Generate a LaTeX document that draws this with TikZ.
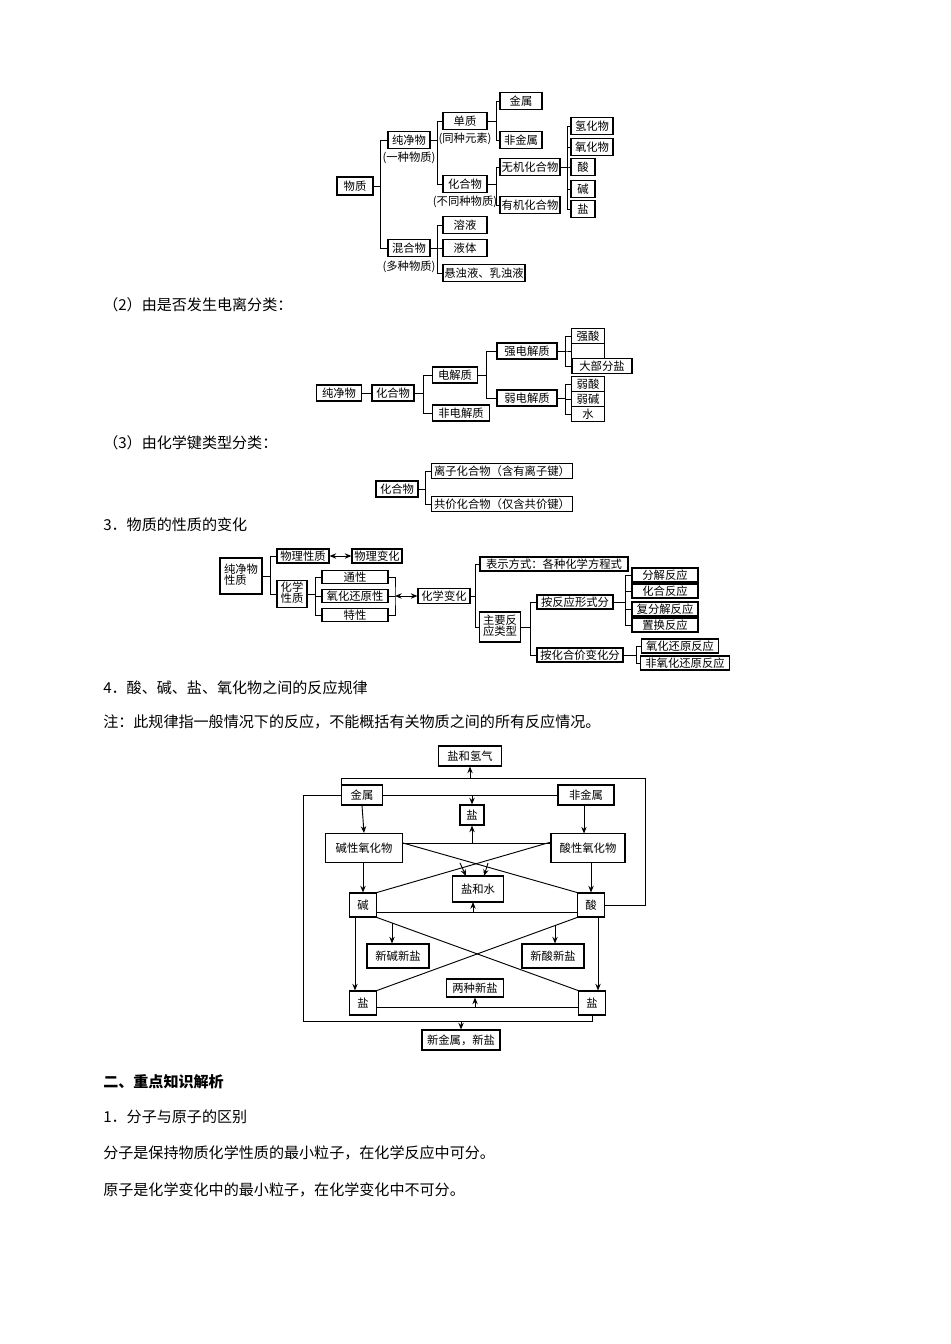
\documentclass[tikz,border=0pt]{standalone}
\usepackage{fontspec}
\newfontfamily\cjk{Noto Sans CJK SC}
\usetikzlibrary{arrows.meta}
\newcommand\bx[6]{\node[bx,minimum width=#4*0.75pt,minimum height=#5*0.75pt] (#1) at (#2,#3) {#6};}
\newcommand\brk[3]{\foreach \c in {#3} {\draw[ln] (#1.east) -- ++(#2,0) |- (\c.west);}}
\newcommand\lbl[3]{\node[font=\cjk\fontsize{8.5}{10}\selectfont,inner sep=0pt] at (#1,#2) {#3};}
\newcommand\para[2]{\node[anchor=west,font=\cjk\fontsize{11.3}{13}\selectfont,inner sep=0pt] at (103,#1) {#2};}
\begin{document}
\begin{tikzpicture}[x=0.75pt,y=-0.75pt,
  bx/.style={draw,line width=0.8pt,inner sep=0pt,font=\cjk\fontsize{8.5}{10}\selectfont},
  ln/.style={line width=0.7pt},
  ar/.style={line width=0.7pt,-{Stealth[length=5pt,width=4pt]}}]
\useasboundingbox[fill=white] (0,0) rectangle (950,1344);
% ---------- diagram 1
\bx{wz}{355}{186}{36}{18}{物质}
\bx{cjw}{409}{140}{42}{17}{纯净物}\lbl{409}{158}{(一种物质)}
\bx{hhw}{409}{248}{42}{17}{混合物}\lbl{409}{267}{(多种物质)}
\bx{dz}{465}{121}{44}{17}{单质}\lbl{465}{139}{(同种元素)}
\bx{hgw}{465}{184}{44}{17}{化合物}\lbl{465}{202}{(不同种物质)}
\bx{js}{521}{101}{42}{17}{金属}
\bx{fjs}{521}{140}{42}{17}{非金属}
\bx{wj}{530}{167}{60}{17}{无机化合物}
\bx{yj}{530}{205}{60}{17}{有机化合物}
\bx{qhw}{592}{126}{42}{17}{氢化物}
\bx{yhw}{592}{147}{42}{17}{氧化物}
\bx{suan}{583}{167}{24}{17}{酸}
\bx{jian}{583}{189}{24}{17}{碱}
\bx{yan}{583}{209}{24}{17}{盐}
\bx{ry}{465}{225}{44}{17}{溶液}
\bx{yt}{465}{248}{44}{17}{液体}
\bx{xz}{484}{273}{82}{17}{悬浊液、乳浊液}
\brk{wz}{7}{cjw,hhw}
\brk{cjw}{7}{dz,hgw}
\brk{dz}{9}{js,fjs}
\brk{hgw}{9}{wj,yj}
\brk{wj}{7}{qhw,yhw,suan,jian,yan}
\brk{hhw}{7}{ry,yt,xz}
% ---------- text
\para{305}{（2）由是否发生电离分类：}
\para{443}{（3）由化学键类型分类：}
\para{525}{3．物质的性质的变化}
\para{688}{4．酸、碱、盐、氧化物之间的反应规律}
\para{722}{注：此规律指一般情况下的反应，不能概括有关物质之间的所有反应情况。}
\node[anchor=west,font=\cjk\bfseries\fontsize{11.3}{13}\selectfont,inner sep=0pt] at (103,1082) {二、重点知识解析};
\para{1117}{1．分子与原子的区别}
\para{1153}{分子是保持物质化学性质的最小粒子，在化学反应中可分。}
\para{1190}{原子是化学变化中的最小粒子，在化学变化中不可分。}
% ---------- diagram 2
\bx{b1}{339}{393}{45}{16}{纯净物}
\bx{b2}{393}{393}{42}{16}{化合物}
\bx{b3}{455}{375}{45}{16}{电解质}
\bx{b4}{461}{413}{57}{16}{非电解质}
\bx{b5}{527}{351}{60}{16}{强电解质}
\bx{b6}{527}{398}{60}{16}{弱电解质}
\bx{c1}{588}{336}{33}{15}{强酸}
\bx{c2}{588}{351}{33}{15}{}
\bx{c3}{602}{366}{60}{15}{大部分盐}
\bx{c4}{588}{384}{33}{15}{弱酸}
\bx{c5}{588}{399}{33}{15}{弱碱}
\bx{c6}{588}{414}{33}{15}{水}
\draw[ln] (b1.east) -- (b2.west);
\brk{b2}{9}{b3,b4}
\brk{b3}{8}{b5,b6}
\brk{b5}{8}{c1,c2,c3}
\brk{b6}{8}{c4,c5,c6}
% ---------- diagram 3
\bx{d1}{397}{489}{42}{16}{化合物}
\bx{d2}{502}{471}{141}{15}{离子化合物（含有离子键）}
\bx{d3}{502}{504}{141}{15}{共价化合物（仅含共价键）}
\brk{d1}{7}{d2,d3}
% ---------- diagram 4
\bx{e1}{241}{576}{42}{36}{\begin{tabular}{@{}l@{}}纯净物\\[-2pt]性质\end{tabular}}
\bx{e2}{303}{556}{52}{14}{物理性质}
\bx{e3}{377}{556}{50}{14}{物理变化}
\bx{e4}{292}{594}{30}{27}{\begin{tabular}{@{}l@{}}化学\\[-2pt]性质\end{tabular}}
\bx{f1}{355}{577}{66}{13}{通性}
\bx{f2}{355}{596}{66}{13}{氧化还原性}
\bx{f3}{355}{615}{66}{13}{特性}
\bx{hx}{444}{596}{52}{15}{化学变化}
\bx{g1}{554}{564}{148}{14}{表示方式：各种化学方程式}
\bx{g2}{500}{627}{41}{30}{\begin{tabular}{@{}l@{}}主要反\\[-2pt]应类型\end{tabular}}
\bx{g3}{575}{602}{76}{14}{按反应形式分}
\bx{g4}{580}{655}{86}{14}{按化合价变化分}
\bx{h1}{665}{575}{66}{14}{分解反应}
\bx{h2}{665}{591}{66}{14}{化合反应}
\bx{h3}{665}{609}{66}{14}{复分解反应}
\bx{h4}{665}{625}{66}{14}{置换反应}
\bx{h5}{680}{646}{77}{14}{氧化还原反应}
\bx{h6}{685}{663}{89}{14}{非氧化还原反应}
\brk{e1}{8}{e2,e4}
\brk{e4}{8}{f1,f2,f3}
\draw[ln,{Stealth[length=5pt,width=4pt]}-{Stealth[length=5pt,width=4pt]}] (e2.east) -- (e3.west);
\coordinate (rb) at (395,596);
\draw[ln] (f1.east) -| (rb) |- (f3.east);
\draw[ln] (f2.east) -- (rb);
\draw[ln,{Stealth[length=5pt,width=4pt]}-{Stealth[length=5pt,width=4pt]}] (rb) -- (hx.west);
\brk{hx}{5}{g1,g2}
\brk{g2}{9}{g3,g4}
\brk{g3}{12}{h1,h2,h3,h4}
\brk{g4}{13}{h5,h6}
% ---------- diagram 5
\bx{k1}{470}{756}{63}{20}{盐和氢气}
\bx{k2}{362}{795}{41}{20}{金属}
\bx{k3}{586}{795}{56}{20}{非金属}
\bx{k4}{472}{815}{24}{20}{盐}
\bx{k5}{364}{848}{77}{29}{碱性氧化物}
\bx{k6}{588}{848}{74}{29}{酸性氧化物}
\bx{k7}{478}{889}{51}{26}{盐和水}
\bx{k8}{363}{905}{27}{24}{碱}
\bx{k9}{591}{905}{27}{24}{酸}
\bx{m1}{398}{956}{62}{24}{新碱新盐}
\bx{m2}{553}{956}{62}{24}{新酸新盐}
\bx{m3}{475}{988}{57}{18}{两种新盐}
\bx{m4}{363}{1003}{27}{24}{盐}
\bx{m5}{592}{1003}{27}{24}{盐}
\bx{m6}{461}{1040}{78}{20}{新金属，新盐}
\coordinate (tp) at (470,778);
\coordinate (lw) at (461,1021);
\draw[ln] (k2.north west) |- (645,778) |- (k9.east);
\draw[ar] (tp) -- (k1.south);
\draw[ln] (k2.west) -| (303,1021) -| (m5.south);
\draw[ar] (lw) -- (m6.north);
\draw[ln] (k2.east) -- (k3.west);
\draw[ar] (472,795) -- (k4.north);
\draw[ar] (k2.south) -- (k5.north);
\draw[ar] (k3.south -| 584,0) -- (584,833.5);
\draw[ln] (k5.east |- 0,843) -- (k6.west |- 0,843);
\draw[ar] (472,843) -- (k4.south);
\draw[ln] (403,843) -- (k9.north west);
\draw[ln] (551,842) -- (k8.north east);
\draw[ar] (460,863) -- (466,876);
\draw[ar] (488,863) -- (484,876);
\draw[ar] (k5.south -| k8.north) -- (k8.north);
\draw[ar] (k6.south -| k9.north) -- (k9.north);
\draw[ln] (k8.east |- 0,912) -- (k9.west |- 0,912);
\draw[ar] (473,912) -- (473,902);
\draw[ln] (k8.south east) -- (m5.north west);
\draw[ln] (k9.south west) -- (m4.north east);
\draw[ar] (392,923) -- (m1.north -| 392,0);
\draw[ar] (555,926) -- (m2.north -| 555,0);
\draw[ar] (k8.south -| 355,0) -- (m4.north -| 355,0);
\draw[ar] (k9.south -| 598,0) -- (m5.north -| 598,0);
\draw[ln] (m4.east |- 0,1007) -- (m5.west |- 0,1007);
\draw[ar] (475,1007) -- (m3.south);
\end{tikzpicture}
\end{document}
